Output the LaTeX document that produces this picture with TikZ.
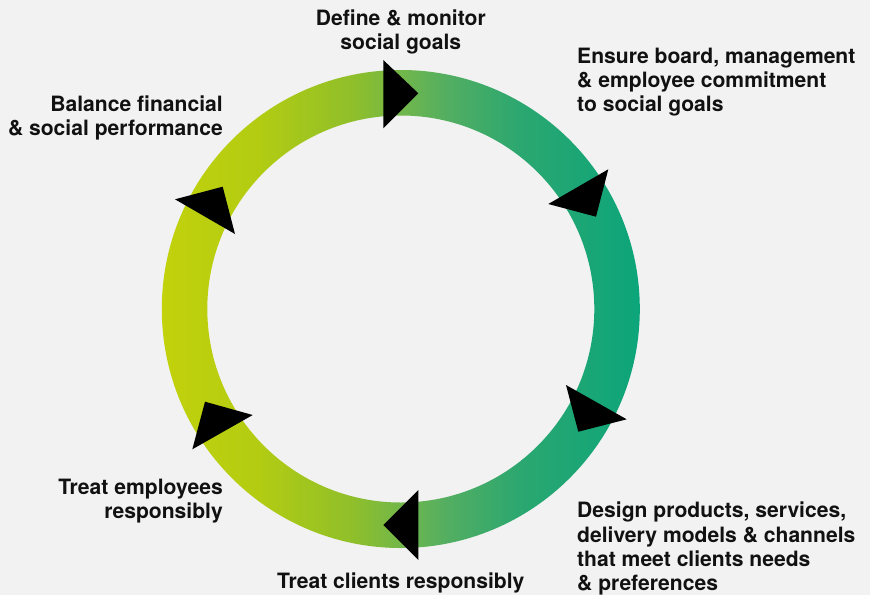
\documentclass[tikz,border=0pt]{standalone}
\usepackage{fontspec}
\setmainfont{TeX Gyre Heros}
\definecolor{bgcol}{HTML}{F2F2F2}
\definecolor{txtcol}{HTML}{111111}
\definecolor{ringA}{HTML}{C2D20B}
\definecolor{ringB}{HTML}{B3CC12}
\definecolor{ringC}{HTML}{8FBF2A}
\definecolor{ringD}{HTML}{72B74A}
\definecolor{ringE}{HTML}{52AE62}
\definecolor{ringF}{HTML}{2BA770}
\definecolor{ringG}{HTML}{0CA57A}
% horizontal ramp; the 25bp..75bp part is stretched over the ring
\pgfdeclarehorizontalshading{ringramp}{100bp}{%
  color(0bp)=(ringA); color(25bp)=(ringA); color(35bp)=(ringB);
  color(45bp)=(ringC); color(50bp)=(ringD); color(55bp)=(ringE);
  color(62.5bp)=(ringF); color(75bp)=(ringG); color(100bp)=(ringG)}
\tikzset{
  label/.style={font=\fontsize{21.1}{24.2}\selectfont\bfseries, text=txtcol, inner sep=0pt},
  tri/.style={fill=black}
}
\begin{document}
\begin{tikzpicture}[x=1pt,y=-1pt]
  \fill[bgcol] (0,0) rectangle (870,595);
  \useasboundingbox (0,0) rectangle (870,595);
  \coordinate (c) at (400.8,309);
  % the ring
  \shade[shading=ringramp, even odd rule] (c) circle[radius=239] (c) circle[radius=193.5];
  % direction markers
  \fill[tri] (383.3,60) -- (418.3,93.3) -- (383.3,128.3) -- cycle;
  \fill[tri] (608.3,169.3) -- (548.3,204) -- (596,216.7) -- cycle;
  \fill[tri] (566,385) -- (626.7,419.3) -- (578.3,431.7) -- cycle;
  \fill[tri] (418.3,490) -- (383.3,525) -- (418.3,560) -- cycle;
  \fill[tri] (205,401.7) -- (252.7,415) -- (192.3,449.3) -- cycle;
  \fill[tri] (175,199.3) -- (222.7,186.7) -- (235,234) -- cycle;
  % labels
  \node[label, anchor=north, align=center] (define) at (400.8,9.5) {Define \& monitor\\social goals};
  \node[label, anchor=north west, align=left] (ensure) at (577,48) {Ensure board, management\\\& employee commitment\\to social goals};
  \node[label, anchor=north east, align=right] (balance) at (223,95.5) {Balance financial\\\& social performance};
  \node[label, anchor=north east, align=right] (employees) at (223,479) {Treat employees\\responsibly};
  \node[label, anchor=north west, align=left] (design) at (577,502) {Design products, services,\\delivery models \& channels\\that meet clients needs\\\& preferences};
  \node[label, anchor=north] (clients) at (400.8,573) {Treat clients responsibly};
\end{tikzpicture}
\end{document}
